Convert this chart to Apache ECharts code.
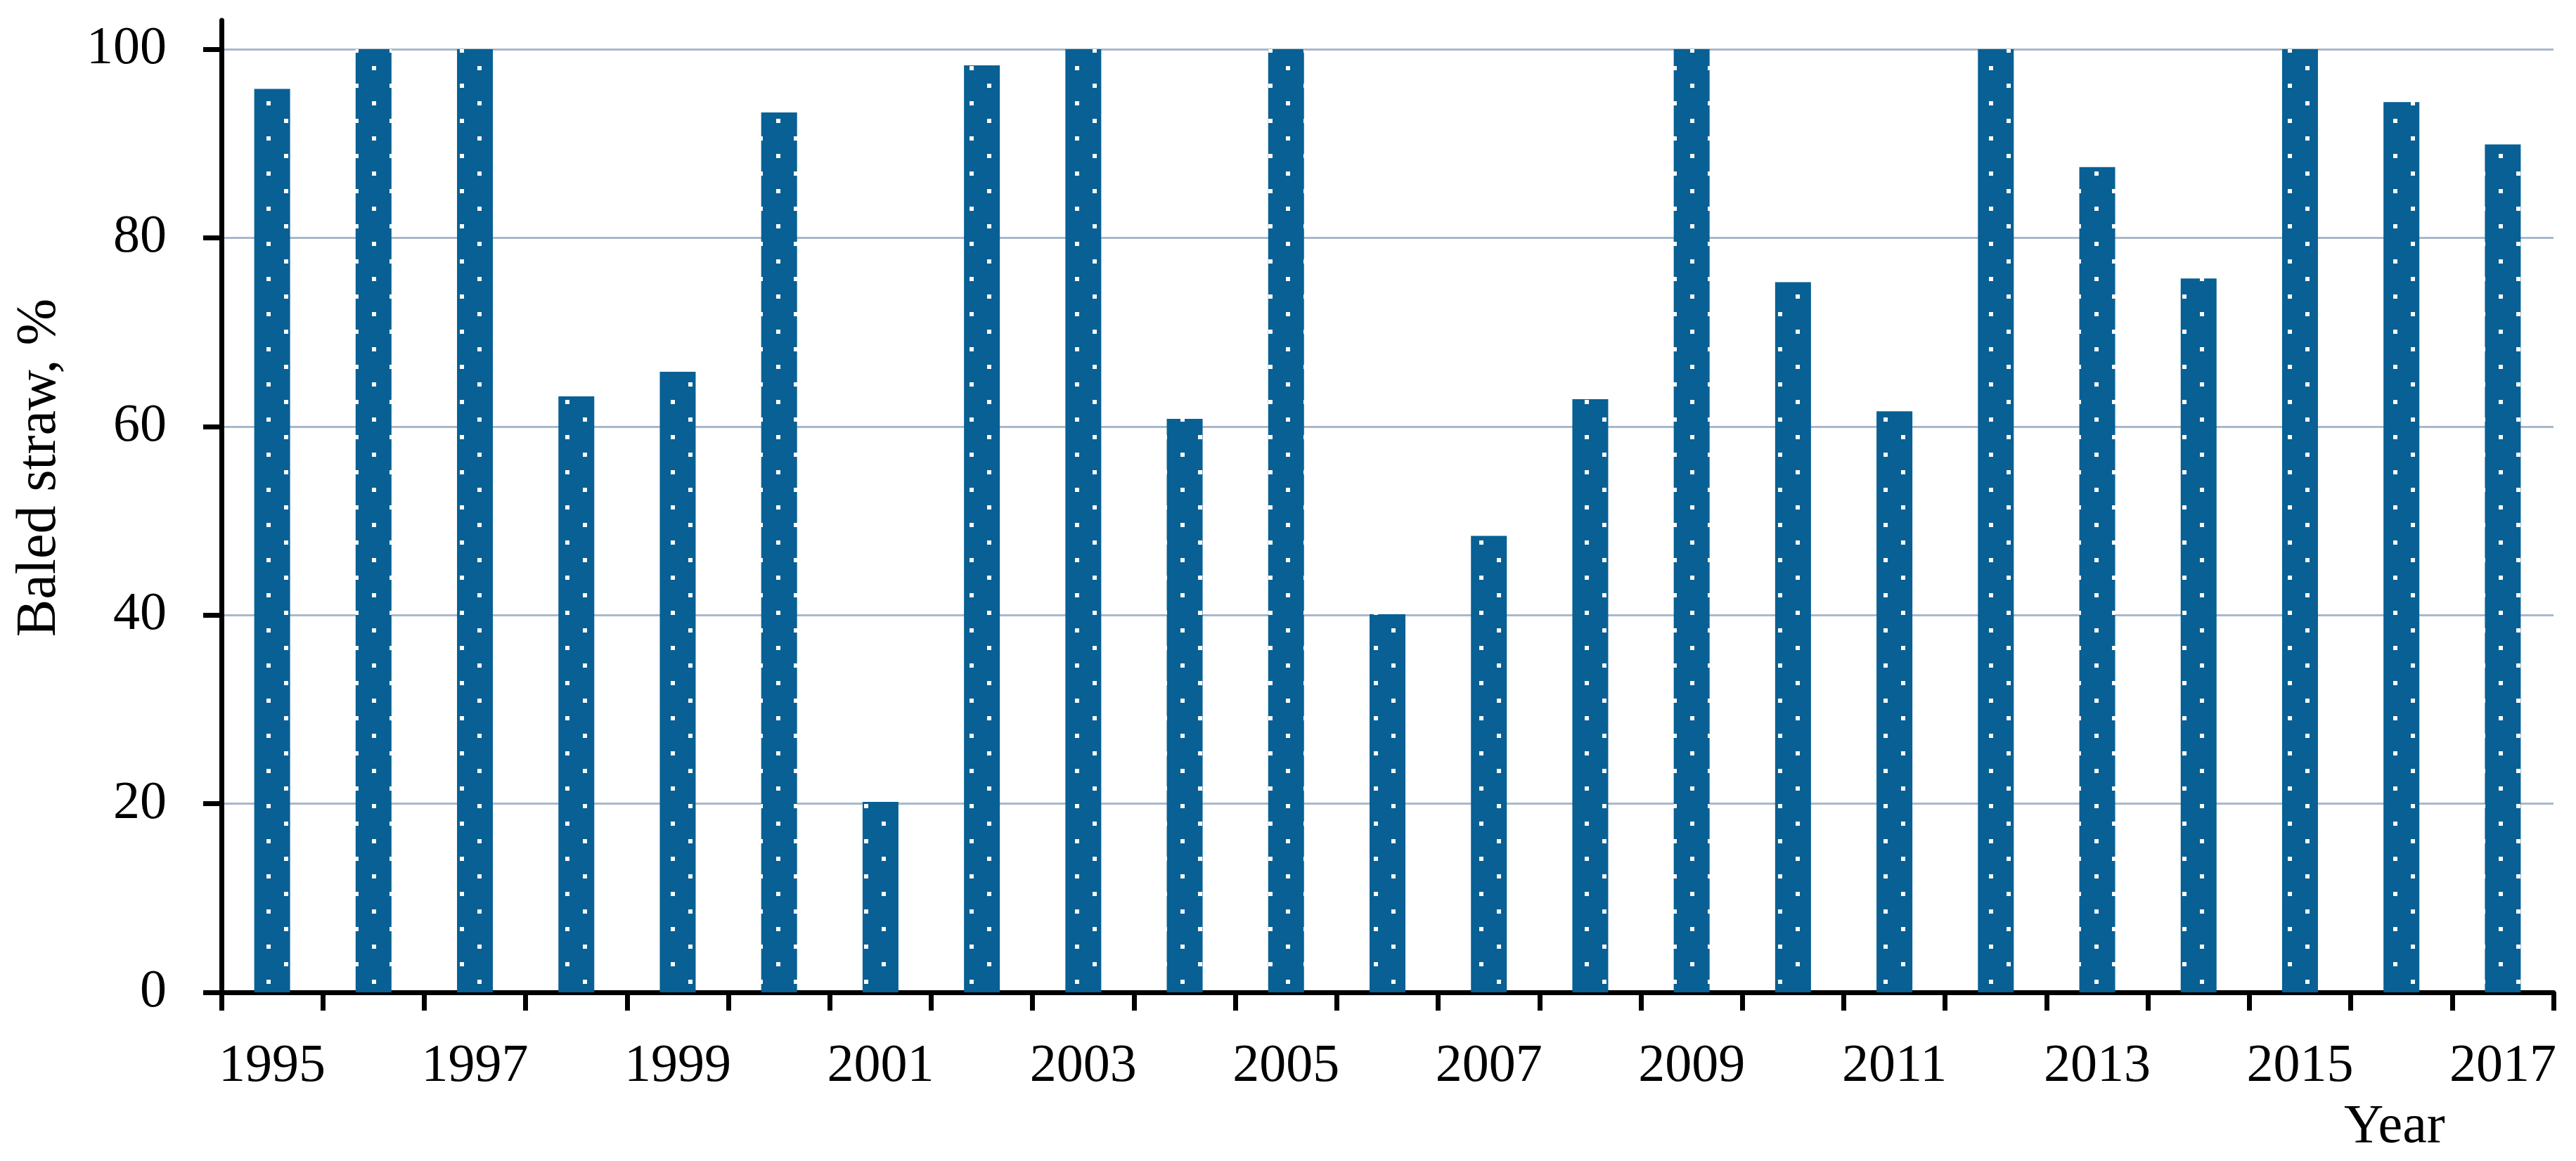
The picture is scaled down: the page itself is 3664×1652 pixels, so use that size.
<!DOCTYPE html>
<html>
<head>
<meta charset="utf-8">
<script src="https://cdn.jsdelivr.net/npm/echarts@6/dist/echarts.min.js"></script>
<style>
html,body{margin:0;padding:0;background:#fff;}
#chart{width:3664px;height:1652px;}
</style>
</head>
<body>
<div id="chart"></div>
<script>
// ---- data ----
const years = ['1995','1996','1997','1998','1999','2000','2001','2002','2003','2004','2005','2006',
  '2007','2008','2009','2010','2011','2012','2013','2014','2015','2016','2017'];
const baledStraw = [95.8,100,100,63.2,65.8,93.3,20.2,98.3,100,60.8,100,40.1,
  48.4,62.9,100,75.3,61.6,100,87.5,75.7,100,94.4,89.9];
const yTicks = [0,20,40,60,80,100];
const yAxisTitle = 'Baled straw, %';
const xAxisTitle = 'Year';

// ---- style ----
const barColor = '#086094';
const font = '"Liberation Serif", "Times New Roman", serif';

function dotPattern() {
  const c = document.createElement('canvas');
  c.width = 50; c.height = 50;
  const g = c.getContext('2d');
  g.fillStyle = barColor;
  g.fillRect(0, 0, 50, 50);
  g.fillStyle = '#ffffff';
  g.fillRect(4, 19, 6, 6);
  g.fillRect(29, 44, 6, 6);
  return c;
}

const chart = echarts.init(document.getElementById('chart'), null, {renderer: 'canvas'});
chart.setOption({
  backgroundColor: '#ffffff',
  animation: false,
  title: {
    text: xAxisTitle,
    left: 3329, top: 1561,
    textStyle: {fontFamily: font, fontSize: 78, fontWeight: 'normal', color: '#000'}
  },
  grid: {left: 315, right: 32, top: 29, bottom: 240, containLabel: false},
  xAxis: {
    type: 'category',
    data: years,
    boundaryGap: true,
    axisLine: {show: true, lineStyle: {color: '#000', width: 7}},
    axisTick: {show: true, alignWithLabel: false, interval: 0, length: 26, lineStyle: {color: '#000', width: 7}},
    axisLabel: {interval: 1, margin: 68, fontFamily: font, fontSize: 76, color: '#000'},
    splitLine: {show: false}
  },
  yAxis: {
    type: 'value',
    min: 0,
    max: 103.06,
    interval: 20,
    name: yAxisTitle,
    nameLocation: 'middle',
    nameGap: 218,
    nameRotate: 90,
    nameTextStyle: {fontFamily: font, fontSize: 80, color: '#000', padding: [0, 0, 0, 110]},
    axisLine: {show: true, lineStyle: {color: '#000', width: 7}},
    axisTick: {show: true, inside: false, length: 26, customValues: yTicks, lineStyle: {color: '#000', width: 7}},
    axisLabel: {margin: 78, customValues: yTicks, fontFamily: font, fontSize: 76, color: '#000'},
    splitLine: {show: true, showMinLine: false, lineStyle: {color: '#a9b8cb', width: 3}}
  },
  series: [{
    type: 'bar',
    data: baledStraw,
    barWidth: 51,
    itemStyle: {color: {image: dotPattern(), repeat: 'repeat'}}
  }]
});
</script>
</body>
</html>
